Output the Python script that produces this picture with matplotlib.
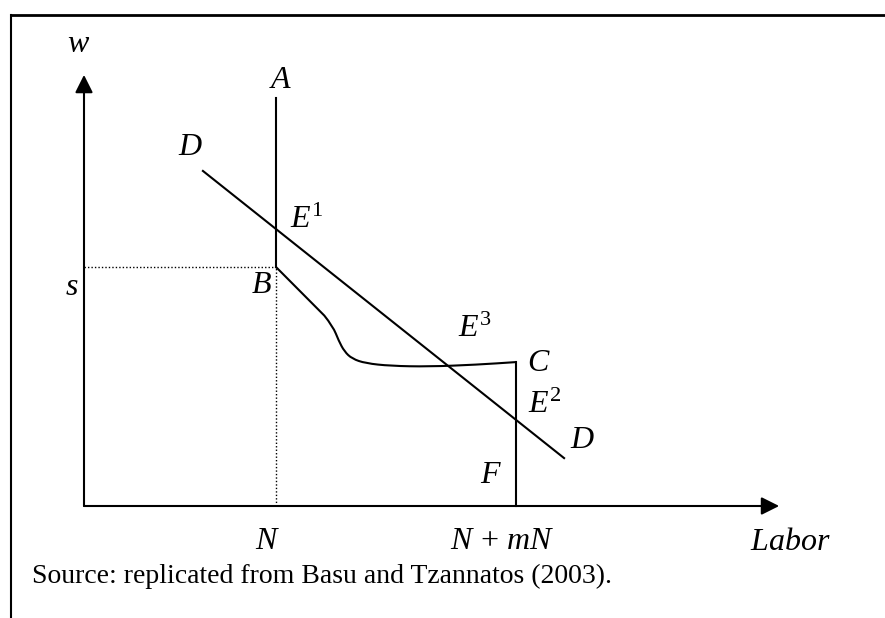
import matplotlib
matplotlib.use("Agg")
import matplotlib.pyplot as plt
from matplotlib.lines import Line2D
from matplotlib.path import Path
from matplotlib.patches import PathPatch

plt.rcParams["font.family"] = "Liberation Serif"
plt.rcParams["mathtext.fontset"] = "custom"
plt.rcParams["mathtext.rm"] = "Liberation Serif"
plt.rcParams["mathtext.it"] = "Liberation Serif:italic"

# datos (x en unidades de N, y en unidades de s)
n_emp = 1.0
n_total = 2.258          # N + mN
s_wage = 1.0
a_top = 1.704

curva_x = [1.0, 1.255, 1.300, 1.330, 1.360, 1.400, 1.470, 1.600, 1.800,
           2.050, 2.258]
curva_y = [1.0, 0.795, 0.750, 0.690, 0.645, 0.615, 0.596, 0.585, 0.582,
           0.590, 0.601]

demanda_x = [0.621, 2.507]
demanda_y = [1.399, 0.200]

eje_x_max = 3.63
eje_y_max = 1.80

W, H = 885, 618
fig = plt.figure(figsize=(W / 100, H / 100), dpi=100)
ax = fig.add_axes([0, 0, 1, 1])
ax.set_xlim(-84 / 191.5, (W - 84) / 191.5)
ax.set_ylim((506 - H) / 239.5, 506 / 239.5)
ax.axis("off")

# marco
fig.add_artist(Line2D([11 / W, 1], [1 - 15 / H, 1 - 15 / H], color="black", lw=2.0))
fig.add_artist(Line2D([11 / W, 11 / W], [0, 1 - 15 / H], color="black", lw=1.5))

# ejes con flecha
flecha = dict(arrowstyle="-|>,head_length=0.4,head_width=0.2", mutation_scale=27,
              lw=1.5, color="black", shrinkA=0, shrinkB=0)
ax.annotate("", xy=(eje_x_max, 0), xytext=(0, 0), arrowprops=flecha)
ax.annotate("", xy=(0, eje_y_max), xytext=(0, 0), arrowprops=flecha)

# lineas punteadas
ax.plot([0, n_emp], [s_wage, s_wage], color="black", lw=1, ls=(0, (1, 1.5)))
ax.plot([n_emp, n_emp], [0, s_wage], color="black", lw=1, ls=(0, (1, 1.5)))

# A-B y C-F
ax.plot([n_emp, n_emp], [a_top, s_wage], color="black", lw=1.5)
ax.plot([n_total, n_total], [curva_y[-1], 0], color="black", lw=1.5)

# curva B-C suavizada: tramo recto y luego bezier cuadraticas entre puntos medios
pts = list(zip(curva_x, curva_y))
verts = [pts[0], pts[1]]
codes = [Path.MOVETO, Path.LINETO]
for i in range(1, len(pts) - 2):
    mid = ((pts[i][0] + pts[i + 1][0]) / 2, (pts[i][1] + pts[i + 1][1]) / 2)
    if i == 1:
        verts[-1] = pts[1]
    verts += [pts[i + 1], ((pts[i + 1][0] + pts[i + 2][0]) / 2,
                           (pts[i + 1][1] + pts[i + 2][1]) / 2)]
    codes += [Path.CURVE3, Path.CURVE3]
verts.append(pts[-1])
codes.append(Path.LINETO)
ax.add_patch(PathPatch(Path(verts, codes), fill=False, lw=1.5, edgecolor="black"))

# demanda D-D
ax.plot(demanda_x, demanda_y, color="black", lw=1.5)

def etiqueta(x, y, txt, size=23):
    fig.text(x / W, 1 - y / H, txt, fontsize=size, ha="left", va="baseline")

etiqueta(67, 52, r"$w$")
etiqueta(269, 88, r"$A$")
etiqueta(178, 155, r"$D$")
etiqueta(290, 228, r"$E^{1}$")
etiqueta(65, 295, r"$s$")
etiqueta(251, 293, r"$B$")
etiqueta(458, 337, r"$E^{3}$")
etiqueta(527, 371, r"$C$")
etiqueta(528, 413, r"$E^{2}$")
etiqueta(570, 448, r"$D$")
etiqueta(480, 483, r"$F$")
etiqueta(255, 549, r"$N$")
etiqueta(450, 549, r"$N\,+\,mN$")
etiqueta(750, 550, r"$Labor$")
etiqueta(32, 583, "Source: replicated from Basu and Tzannatos (2003).", size=20)

fig.savefig("out.png", dpi=100)
